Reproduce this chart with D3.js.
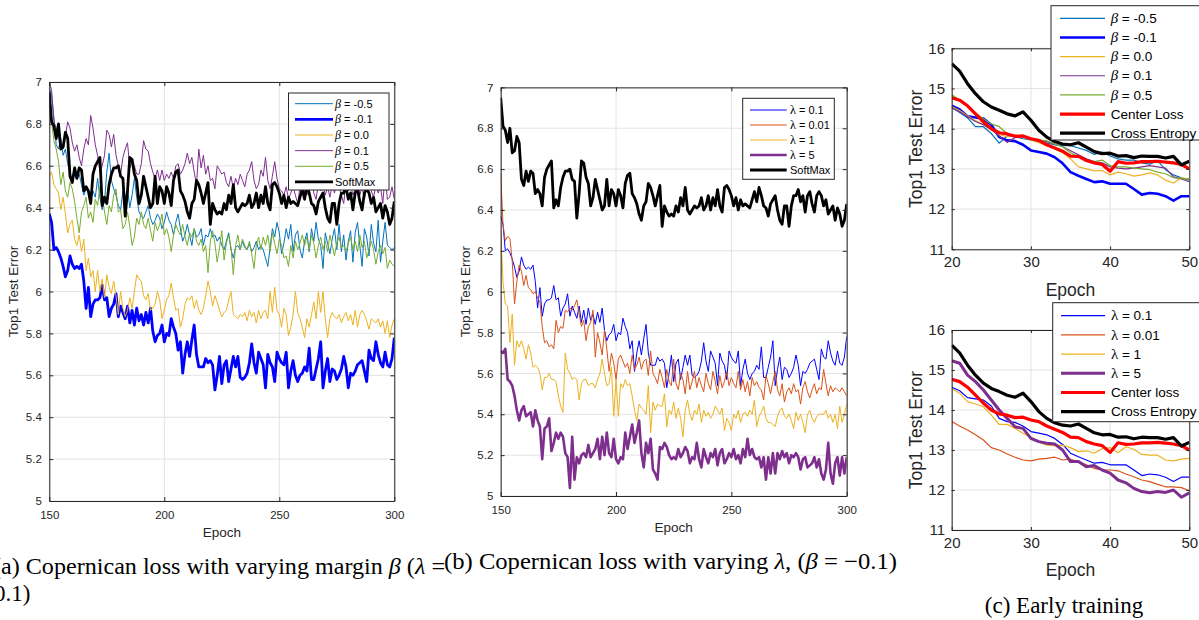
<!DOCTYPE html>
<html><head><meta charset="utf-8">
<script src="https://cdn.jsdelivr.net/npm/d3@7"></script>
<style>body{margin:0;background:#fff}svg{display:block}</style>
</head><body><svg id="c" width="1199" height="620"></svg>
<script>
// ---------------- DATA ----------------
const epochsLong = d3.range(150, 301);
const epochsEarly = d3.range(20, 51);
const ticksLongX = [150, 200, 250, 300];
const ticksLongY = [5, 5.2, 5.4, 5.6, 5.8, 6, 6.2, 6.4, 6.6, 6.8, 7];
const ticksEarlyX = [20, 30, 40, 50];
const ticksEarlyY = [11, 12, 13, 14, 15, 16];

const softmax = [
6.95,6.81,6.79,6.73,6.80,6.68,6.69,6.76,6.73,6.55,
6.52,6.59,6.54,6.59,6.58,6.48,6.50,6.48,6.42,6.56,
6.60,6.62,6.64,6.41,6.45,6.42,6.51,6.56,6.59,6.59,
6.60,6.55,6.54,6.36,6.48,6.64,6.63,6.56,6.53,6.42,
6.46,6.55,6.50,6.45,6.40,6.42,6.55,6.42,6.50,6.48,
6.42,6.50,6.47,6.41,6.53,6.57,6.58,6.48,6.46,6.43,
6.38,6.35,6.42,6.44,6.53,6.51,6.47,6.42,6.47,6.52,
6.32,6.42,6.39,6.37,6.38,6.37,6.42,6.39,6.46,6.42,
6.51,6.40,6.38,6.40,6.42,6.41,6.42,6.46,6.40,6.42,
6.47,6.40,6.46,6.42,6.50,6.42,6.39,6.51,6.52,6.50,
6.47,6.42,6.46,6.40,6.45,6.42,6.43,6.42,6.41,6.45,
6.49,6.44,6.51,6.47,6.42,6.41,6.37,6.43,6.45,6.47,
6.40,6.35,6.33,6.42,6.42,6.32,6.42,6.47,6.47,6.50,
6.44,6.47,6.39,6.47,6.49,6.43,6.39,6.47,6.49,6.47,
6.42,6.45,6.38,6.40,6.42,6.35,6.41,6.38,6.32,6.35,
6.43];
// beta = -0.1, lambda = 0.1 (shared by panels a and b)
const copBase = [
6.37,6.33,6.20,6.21,6.19,6.16,6.12,6.07,6.10,6.17,
6.13,6.11,6.12,6.11,6.13,6.05,5.92,6.02,5.88,5.94,
5.96,5.96,5.97,6.03,5.96,5.97,5.88,5.92,5.94,5.99,
5.88,5.93,5.90,5.87,5.93,5.85,5.91,5.84,5.92,5.86,
5.89,5.84,5.90,5.85,5.92,5.81,5.76,5.79,5.80,5.84,
5.76,5.80,5.79,5.87,5.83,5.80,5.72,5.76,5.61,5.70,
5.76,5.69,5.77,5.84,5.70,5.64,5.64,5.64,5.68,5.66,
5.67,5.65,5.53,5.60,5.69,5.56,5.65,5.67,5.57,5.63,
5.69,5.64,5.69,5.59,5.58,5.59,5.61,5.66,5.75,5.66,
5.61,5.71,5.68,5.65,5.54,5.70,5.66,5.64,5.57,5.71,
5.68,5.66,5.65,5.71,5.54,5.62,5.67,5.60,5.57,5.60,
5.61,5.64,5.62,5.73,5.58,5.58,5.63,5.68,5.76,5.54,
5.62,5.68,5.57,5.63,5.62,5.58,5.60,5.63,5.69,5.64,
5.54,5.61,5.60,5.62,5.65,5.66,5.67,5.62,5.57,5.72,
5.68,5.67,5.76,5.70,5.66,5.64,5.71,5.65,5.64,5.68,
5.78];
const betaM05 = [
6.97,6.94,6.83,6.70,6.68,6.73,6.65,6.68,6.61,6.57,
6.53,6.56,6.54,6.56,6.51,6.46,6.49,6.47,6.44,6.48,
6.45,6.54,6.45,6.39,6.43,6.57,6.66,6.53,6.49,6.46,
6.41,6.39,6.48,6.45,6.49,6.40,6.46,6.54,6.45,6.38,
6.36,6.35,6.38,6.41,6.35,6.32,6.34,6.37,6.35,6.30,
6.33,6.38,6.34,6.32,6.27,6.33,6.37,6.30,6.24,6.27,
6.32,6.27,6.22,6.30,6.26,6.27,6.30,6.22,6.27,6.26,
6.30,6.26,6.27,6.24,6.26,6.22,6.20,6.24,6.28,6.20,
6.16,6.21,6.22,6.20,6.24,6.21,6.20,6.23,6.19,6.21,
6.24,6.20,6.22,6.20,6.16,6.12,6.21,6.30,6.26,6.33,
6.28,6.18,6.23,6.30,6.25,6.32,6.19,6.27,6.29,6.20,
6.16,6.24,6.28,6.19,6.30,6.24,6.33,6.25,6.22,6.11,
6.28,6.23,6.18,6.25,6.30,6.20,6.32,6.19,6.27,6.15,
6.24,6.29,6.14,6.28,6.33,6.22,6.12,6.30,6.26,6.17,
6.32,6.23,6.19,6.34,6.14,6.24,6.33,6.22,6.21,6.20,
6.21];
const beta00 = [
6.55,6.57,6.51,6.49,6.47,6.39,6.45,6.37,6.28,6.32,
6.34,6.25,6.22,6.27,6.19,6.25,6.10,6.16,6.07,6.10,
6.00,6.10,6.00,6.06,5.97,6.08,6.02,5.99,6.05,5.98,
5.89,6.00,5.92,5.88,5.91,5.97,5.92,6.00,6.08,6.06,
6.05,5.98,5.96,5.99,5.91,5.92,5.94,6.00,5.96,5.87,
5.91,5.96,5.98,6.04,5.97,5.91,5.92,5.83,5.87,5.94,
5.97,5.96,5.98,5.92,5.96,5.91,5.89,5.92,5.98,6.05,
6.00,5.93,5.98,5.95,5.91,5.88,5.90,5.91,5.96,6.00,
5.89,5.88,5.87,5.89,5.88,5.90,5.86,5.91,5.88,5.90,
5.85,5.91,5.87,5.90,5.91,5.87,6.00,5.90,6.02,5.91,
5.89,5.83,5.92,5.89,5.79,5.83,5.89,6.00,5.90,5.87,
5.83,5.78,5.87,5.83,5.89,5.95,5.87,6.00,5.90,6.00,
5.87,5.78,5.87,5.90,5.88,5.87,5.89,5.85,5.88,5.90,
5.86,5.89,5.84,5.91,5.83,5.89,5.91,5.89,5.86,5.82,
5.87,5.86,5.85,5.87,5.83,5.86,5.80,5.86,5.78,5.84,
5.87];
const beta01 = [
7.00,6.96,6.81,6.78,6.74,6.70,6.68,6.74,6.81,6.78,
6.71,6.67,6.70,6.64,6.60,6.68,6.73,6.70,6.84,6.78,
6.70,6.65,6.57,6.60,6.65,6.77,6.75,6.69,6.75,6.65,
6.60,6.56,6.64,6.68,6.71,6.59,6.62,6.60,6.56,6.56,
6.61,6.72,6.68,6.67,6.61,6.57,6.54,6.58,6.53,6.58,
6.53,6.56,6.54,6.57,6.54,6.60,6.61,6.56,6.58,6.61,
6.66,6.61,6.64,6.57,6.51,6.68,6.59,6.65,6.56,6.60,
6.53,6.54,6.49,6.60,6.58,6.56,6.57,6.52,6.50,6.55,
6.49,6.54,6.51,6.56,6.53,6.50,6.56,6.58,6.62,6.53,
6.49,6.51,6.58,6.55,6.64,6.53,6.49,6.55,6.62,6.54,
6.49,6.48,6.46,6.50,6.44,6.47,6.50,6.46,6.42,6.50,
6.47,6.52,6.46,6.50,6.56,6.47,6.44,6.52,6.48,6.51,
6.46,6.50,6.45,6.51,6.47,6.53,6.50,6.46,6.42,6.52,
6.48,6.51,6.46,6.49,6.52,6.46,6.50,6.44,6.50,6.53,
6.48,6.45,6.51,6.47,6.50,6.42,6.56,6.44,6.45,6.50,
6.44];
const beta05 = [
6.84,6.81,6.72,6.68,6.62,6.51,6.57,6.48,6.45,6.52,
6.49,6.43,6.35,6.28,6.38,6.41,6.45,6.35,6.38,6.33,
6.44,6.41,6.50,6.46,6.38,6.32,6.41,6.38,6.46,6.49,
6.38,6.39,6.30,6.32,6.38,6.31,6.22,6.26,6.35,6.32,
6.38,6.32,6.30,6.35,6.29,6.24,6.33,6.29,6.32,6.37,
6.27,6.30,6.26,6.19,6.27,6.32,6.29,6.27,6.32,6.26,
6.22,6.28,6.26,6.30,6.24,6.22,6.25,6.19,6.22,6.09,
6.24,6.29,6.23,6.14,6.21,6.29,6.15,6.23,6.27,6.21,
6.08,6.22,6.27,6.20,6.25,6.22,6.20,6.24,6.18,6.11,
6.22,6.26,6.20,6.26,6.22,6.27,6.19,6.28,6.23,6.18,
6.25,6.22,6.16,6.17,6.12,6.22,6.16,6.24,6.20,6.23,
6.27,6.22,6.26,6.20,6.27,6.23,6.16,6.22,6.26,6.20,
6.24,6.19,6.27,6.22,6.17,6.23,6.26,6.21,6.22,6.19,
6.23,6.26,6.20,6.24,6.19,6.27,6.21,6.24,6.16,6.20,
6.24,6.20,6.13,6.19,6.22,6.18,6.21,6.11,6.15,6.13,
6.12];
const lam001 = [
6.58,6.33,6.25,6.27,6.26,6.15,5.94,6.05,6.13,6.10,
6.03,6.08,6.02,6.01,5.99,6.00,5.97,5.95,5.83,5.75,
5.76,5.73,5.74,5.72,5.86,5.80,5.83,5.82,5.91,5.90,
5.92,5.91,5.93,5.96,5.89,5.83,5.86,5.76,5.83,5.85,
5.91,5.68,5.80,5.75,5.69,5.81,5.72,5.61,5.70,5.65,
5.57,5.67,5.69,5.66,5.63,5.65,5.60,5.69,5.62,5.64,
5.68,5.62,5.66,5.67,5.59,5.71,5.60,5.58,5.55,5.62,
5.58,5.53,5.62,5.56,5.54,5.67,5.55,5.52,5.60,5.57,
5.50,5.61,5.52,5.56,5.61,5.53,5.58,5.54,5.51,5.60,
5.55,5.52,5.61,5.56,5.50,5.59,5.53,5.56,5.61,5.54,
5.58,5.55,5.53,5.61,5.52,5.57,5.51,5.56,5.49,5.58,
5.54,5.56,5.53,5.52,5.47,5.59,5.55,5.50,5.56,5.61,
5.52,5.49,5.55,5.46,5.51,5.53,5.50,5.55,5.51,5.52,
5.45,5.53,5.56,5.51,5.48,5.52,5.55,5.50,5.53,5.52,
5.62,5.55,5.49,5.54,5.51,5.53,5.52,5.51,5.53,5.51,
5.49];
const lam1 = [
6.30,6.05,5.94,5.93,5.75,5.89,5.64,5.76,5.73,5.76,
5.72,5.67,5.74,5.70,5.63,5.64,5.63,5.60,5.52,5.58,
5.58,5.60,5.57,5.57,5.56,5.49,5.44,5.41,5.70,5.62,
5.60,5.57,5.58,5.57,5.47,5.55,5.57,5.57,5.54,5.55,
5.55,5.53,5.57,5.60,5.67,5.60,5.54,5.55,5.63,5.39,
5.57,5.39,5.55,5.53,5.57,5.54,5.55,5.49,5.42,5.37,
5.45,5.43,5.42,5.40,5.54,5.31,5.46,5.42,5.45,5.44,
5.44,5.50,5.34,5.42,5.40,5.46,5.38,5.43,5.38,5.29,
5.42,5.47,5.40,5.37,5.42,5.40,5.45,5.36,5.42,5.39,
5.41,5.38,5.40,5.44,5.42,5.40,5.43,5.32,5.38,5.36,
5.32,5.40,5.38,5.42,5.36,5.40,5.41,5.39,5.42,5.40,
5.47,5.34,5.39,5.41,5.44,5.38,5.36,5.36,5.35,5.34,
5.39,5.42,5.43,5.39,5.38,5.40,5.37,5.33,5.41,5.37,
5.40,5.36,5.31,5.40,5.42,5.38,5.36,5.39,5.40,5.40,
5.40,5.42,5.38,5.40,5.36,5.40,5.33,5.44,5.36,5.40,
5.45];
const lam5 = [
5.71,5.70,5.72,5.57,5.56,5.54,5.49,5.42,5.37,5.42,
5.44,5.39,5.40,5.41,5.34,5.42,5.37,5.34,5.18,5.33,
5.34,5.38,5.22,5.26,5.31,5.28,5.31,5.29,5.21,5.19,
5.04,5.29,5.08,5.19,5.16,5.20,5.21,5.19,5.25,5.19,
5.21,5.23,5.28,5.18,5.29,5.20,5.31,5.21,5.19,5.28,
5.18,5.16,5.19,5.18,5.31,5.23,5.29,5.35,5.26,5.31,
5.37,5.21,5.14,5.26,5.21,5.28,5.13,5.11,5.08,5.24,
5.23,5.26,5.24,5.20,5.18,5.19,5.18,5.23,5.19,5.21,
5.24,5.22,5.16,5.19,5.18,5.26,5.18,5.14,5.23,5.19,
5.16,5.21,5.19,5.23,5.15,5.21,5.23,5.16,5.18,5.21,
5.19,5.23,5.18,5.20,5.16,5.23,5.19,5.28,5.20,5.23,
5.19,5.18,5.19,5.14,5.19,5.08,5.19,5.11,5.21,5.11,
5.21,5.18,5.22,5.19,5.21,5.16,5.20,5.19,5.21,5.19,
5.13,5.18,5.19,5.14,5.15,5.16,5.19,5.14,5.18,5.11,
5.08,5.13,5.26,5.11,5.06,5.16,5.19,5.10,5.19,5.11,
5.19];

// early training (epochs 20..50)
const earlyCE     = [15.62,15.43,15.12,14.87,14.67,14.54,14.46,14.37,14.32,14.42,14.21,13.96,13.79,13.68,13.62,13.60,13.65,13.54,13.43,13.38,13.39,13.32,13.33,13.28,13.32,13.31,13.31,13.27,13.31,13.10,13.19];
const earlyCenter = [14.77,14.71,14.57,14.37,14.17,14.00,13.90,13.87,13.81,13.82,13.75,13.71,13.60,13.52,13.44,13.32,13.31,13.21,13.15,13.11,12.94,13.18,13.14,13.15,13.18,13.18,13.19,13.17,13.15,13.11,13.00];
const earlyBase   = [14.57,14.48,14.31,14.28,14.25,14.10,13.79,13.71,13.69,13.60,13.46,13.42,13.38,13.29,13.14,12.92,12.83,12.75,12.67,12.69,12.63,12.63,12.63,12.50,12.36,12.40,12.38,12.32,12.21,12.32,12.32];
const earlyBetaM05= [14.53,14.40,14.27,14.05,14.05,13.88,13.64,13.82,13.80,13.75,13.72,13.68,13.64,13.60,13.58,13.58,13.52,13.46,13.36,13.42,13.32,13.25,13.22,13.22,13.15,13.12,13.20,12.98,12.85,12.78,12.72];
const earlyBeta00 = [14.55,14.45,14.32,14.20,14.10,13.98,13.85,13.80,13.85,13.80,13.72,13.65,13.58,13.50,13.40,13.25,13.05,13.00,12.95,12.96,12.85,12.92,12.88,12.82,12.85,12.90,12.85,12.72,12.65,12.78,12.75];
const earlyBeta01 = [14.52,14.42,14.30,14.18,14.10,13.98,13.82,13.66,13.78,13.80,13.74,13.72,13.68,13.62,13.55,13.45,13.35,13.25,13.18,13.15,13.05,13.02,13.00,13.02,13.05,13.08,13.05,13.02,12.80,12.75,12.68];
const earlyBeta05 = [14.85,14.70,14.55,14.40,14.25,14.12,14.05,13.88,13.82,13.80,13.76,13.72,13.70,13.62,13.55,13.40,13.30,13.22,13.18,13.22,13.08,13.05,13.05,13.02,13.00,12.98,12.92,12.88,12.78,12.76,12.75];
const earlyLam001 = [13.71,13.60,13.50,13.38,13.25,13.06,13.00,12.90,12.82,12.75,12.73,12.77,12.79,12.82,12.75,12.77,12.71,12.63,12.54,12.50,12.50,12.48,12.40,12.33,12.25,12.21,12.14,12.08,12.08,12.06,11.98];
const earlyLam1   = [14.54,14.42,14.21,14.15,14.08,13.87,13.64,13.64,13.54,13.42,13.32,13.21,13.12,13.11,13.12,13.06,12.96,12.98,12.92,13.04,13.06,12.93,13.08,13.02,12.89,12.87,12.87,12.75,12.73,12.77,12.79];
const earlyLam5   = [15.23,15.17,14.87,14.71,14.50,14.25,14.00,13.79,13.58,13.54,13.29,13.21,13.17,13.15,13.00,12.71,12.71,12.58,12.61,12.50,12.42,12.25,12.18,12.04,11.96,11.93,11.96,11.94,12.00,11.82,11.93];

// ---------------- STYLE ----------------
const C = {m05:'#0072BD', m01:'#0000FF', b0:'#EDB120', b01:'#7E2F8E', b05:'#77AC30', sm:'#000000', l001:'#D95319', ctr:'#FF0000'};
const SANS = '"Liberation Sans", Arial, Helvetica, sans-serif';
const SERIF = '"Liberation Serif", "Times New Roman", serif';
const AX = '#262626';
const svg = d3.select('#c');
svg.append('rect').attr('width',1199).attr('height',620).attr('fill','#fff');

function B(v){return [{t:'β',it:true,serif:true},{t:' = '+v}];}
function L(v){return [{t:'λ',serif:true},{t:' = '+v}];}
function T(s){return [{t:s}];}

function drawPanel(cfg){
  const x = d3.scaleLinear().domain(cfg.xDomain).range([cfg.left, cfg.right]);
  const y = d3.scaleLinear().domain(cfg.yDomain).range([cfg.bottom, cfg.top]);
  const g = svg.append('g');
  const W = cfg.right-cfg.left, H = cfg.bottom-cfg.top;
  g.selectAll(null).data(cfg.xTicks).join('line')
    .attr('x1',d=>x(d)).attr('x2',d=>x(d)).attr('y1',cfg.top).attr('y2',cfg.bottom)
    .attr('stroke','#e3e3e3').attr('stroke-width',1);
  g.selectAll(null).data(cfg.yTicks).join('line')
    .attr('y1',d=>y(d)).attr('y2',d=>y(d)).attr('x1',cfg.left).attr('x2',cfg.right)
    .attr('stroke','#e3e3e3').attr('stroke-width',1);
  const cid = 'clip'+cfg.id;
  svg.append('clipPath').attr('id',cid).append('rect')
    .attr('x',cfg.left).attr('y',cfg.top-2).attr('width',W).attr('height',H+2);
  const line = d3.line().x((d,i)=>x(cfg.xs[i])).y(d=>y(d));
  cfg.series.forEach(s=>{
    g.append('path').datum(s.values).attr('clip-path',`url(#${cid})`)
      .attr('d',line).attr('fill','none').attr('stroke',s.color)
      .attr('stroke-width',s.w).attr('stroke-linejoin','round');
  });
  const ts = cfg.tick;
  const fmt = d=>String(+d.toFixed(1));
  const style = (sel,fs)=>{
    sel.select('.domain').attr('stroke',AX).attr('stroke-width',1);
    sel.selectAll('.tick line').attr('stroke',AX).attr('stroke-width',1);
    sel.selectAll('text').attr('fill',AX).attr('font-family',SANS).attr('font-size',fs);
  };
  g.append('g').attr('transform',`translate(0,${cfg.bottom})`)
    .call(d3.axisBottom(x).tickValues(cfg.xTicks).tickFormat(fmt).tickSize(-ts).tickSizeOuter(0).tickPadding(cfg.padX))
    .call(s=>style(s,cfg.tickFs));
  g.append('g').attr('transform',`translate(0,${cfg.top})`)
    .call(d3.axisTop(x).tickValues(cfg.xTicks).tickFormat('').tickSize(-ts).tickSizeOuter(0))
    .call(s=>style(s,cfg.tickFs));
  g.append('g').attr('transform',`translate(${cfg.left},0)`)
    .call(d3.axisLeft(y).tickValues(cfg.yTicks).tickFormat(fmt).tickSize(-ts).tickSizeOuter(0).tickPadding(cfg.padY))
    .call(s=>style(s,cfg.tickFs));
  g.append('g').attr('transform',`translate(${cfg.right},0)`)
    .call(d3.axisRight(y).tickValues(cfg.yTicks).tickFormat('').tickSize(-ts).tickSizeOuter(0))
    .call(s=>style(s,cfg.tickFs));
  g.append('text').attr('x',(cfg.left+cfg.right)/2).attr('y',cfg.xLabelY)
    .attr('text-anchor','middle').attr('font-family',SANS).attr('font-size',cfg.labelFs)
    .attr('fill',AX).text('Epoch');
  g.append('text').attr('transform',`translate(${cfg.yLabelX},${(cfg.top+cfg.bottom)/2}) rotate(-90)`)
    .attr('text-anchor','middle').attr('font-family',SANS).attr('font-size',cfg.labelFs)
    .attr('fill',AX).text('Top1 Test Error');
  const lg = cfg.legend;
  g.append('rect').attr('x',lg.x).attr('y',lg.y).attr('width',lg.w).attr('height',lg.h)
    .attr('fill','#fff').attr('stroke',AX).attr('stroke-width',1);
  cfg.series.forEach((s,i)=>{
    const yy = lg.row0 + i*lg.dy;
    g.append('line').attr('x1',lg.l0).attr('x2',lg.l1).attr('y1',yy).attr('y2',yy)
      .attr('stroke',s.color).attr('stroke-width',s.w);
    const t = g.append('text').attr('x',lg.tx).attr('y',yy).attr('dy','0.35em')
      .attr('font-family',SANS).attr('font-size',lg.fs).attr('fill','#000');
    s.label.forEach(p=>{
      const sp = t.append('tspan').text(p.t);
      if(p.serif) sp.attr('font-family',SERIF).attr('font-size',lg.fs*1.1);
      if(p.it) sp.attr('font-style','italic');
    });
  });
}

drawPanel({id:'a', xs:epochsLong, xDomain:[150,300], yDomain:[5,7], xTicks:ticksLongX, yTicks:ticksLongY,
  left:49.3, right:394.3, top:82, bottom:501, tick:4, tickFs:11.5, padX:9.8, padY:7.5, labelFs:13.5,
  xLabelY:537, yLabelX:18,
  series:[
    {label:B('-0.5'), values:betaM05, color:C.m05, w:1},
    {label:B('-0.1'), values:copBase, color:C.m01, w:2.8},
    {label:B('0.0'),  values:beta00,  color:C.b0,  w:1},
    {label:B('0.1'),  values:beta01,  color:C.b01, w:1},
    {label:B('0.5'),  values:beta05,  color:C.b05, w:1},
    {label:T('SoftMax'), values:softmax, color:C.sm, w:2.8}],
  legend:{x:288.5,y:93,w:100.5,h:97,row0:103.7,dy:15.65,l0:295,l1:333,tx:335,fs:11}
});
drawPanel({id:'b', xs:epochsLong, xDomain:[150,300], yDomain:[5,7], xTicks:ticksLongX, yTicks:ticksLongY,
  left:500.7, right:846.7, top:87.4, bottom:496, tick:4, tickFs:11.5, padX:9.5, padY:7.4, labelFs:13.5,
  xLabelY:532, yLabelX:470,
  series:[
    {label:L('0.1'),  values:copBase, color:C.m01, w:1},
    {label:L('0.01'), values:lam001,  color:C.l001, w:1},
    {label:L('1'),    values:lam1,    color:C.b0,  w:1},
    {label:L('5'),    values:lam5,    color:C.b01, w:2.6},
    {label:T('SoftMax'), values:softmax, color:C.sm, w:2.8}],
  legend:{x:742.7,y:98.3,w:91.6,h:81,row0:110,dy:15,l0:750,l1:786.7,tx:790,fs:11}
});
drawPanel({id:'c1', xs:epochsEarly, xDomain:[20,50], yDomain:[11,16], xTicks:ticksEarlyX, yTicks:ticksEarlyY,
  left:951.7, right:1189.3, top:48.3, bottom:249.3, tick:3, tickFs:15, padX:7.4, padY:6.7, labelFs:17.5,
  xLabelY:295.5, yLabelX:922,
  series:[
    {label:B('-0.5'), values:earlyBetaM05, color:C.m05, w:1.2},
    {label:B('-0.1'), values:earlyBase,    color:C.m01, w:2.6},
    {label:B('0.0'),  values:earlyBeta00,  color:C.b0,  w:1.2},
    {label:B('0.1'),  values:earlyBeta01,  color:C.b01, w:1.2},
    {label:B('0.5'),  values:earlyBeta05,  color:C.b05, w:1.2},
    {label:T('Center Loss'),   values:earlyCenter, color:C.ctr, w:3.2},
    {label:T('Cross Entropy'), values:earlyCE,     color:C.sm,  w:3.2}],
  legend:{x:1051,y:5.7,w:160,h:134.3,row0:18.3,dy:19.15,l0:1060,l1:1105,tx:1110.7,fs:13.5}
});
drawPanel({id:'c2', xs:epochsEarly, xDomain:[20,50], yDomain:[11,16], xTicks:ticksEarlyX, yTicks:ticksEarlyY,
  left:951.7, right:1189.3, top:330, bottom:530, tick:3, tickFs:15, padX:7.4, padY:6.7, labelFs:17.5,
  xLabelY:575.5, yLabelX:922,
  series:[
    {label:L('0.1'),  values:earlyBase,   color:C.m01, w:1.2},
    {label:L('0.01'), values:earlyLam001, color:C.l001, w:1.2},
    {label:L('1'),    values:earlyLam1,   color:C.b0,  w:1.2},
    {label:L('5'),    values:earlyLam5,   color:C.b01, w:3},
    {label:T('Center loss'),   values:earlyCenter, color:C.ctr, w:3.2},
    {label:T('Cross Entropy'), values:earlyCE,     color:C.sm,  w:3.2}],
  legend:{x:1052.7,y:302.7,w:160,h:119,row0:315.7,dy:19.2,l0:1061,l1:1105,tx:1111,fs:13.5}
});

function caption(x, y, parts, len){
  const t = svg.append('text').attr('x',x).attr('y',y).attr('font-family',SERIF)
    .attr('font-size',23).attr('fill','#000');
  if(len) t.attr('textLength',len).attr('lengthAdjust','spacingAndGlyphs');
  parts.forEach(p=>{const s=t.append('tspan').text(p.t); if(p.it) s.attr('font-style','italic');});
}
caption(-7, 574, [{t:'(a) Copernican loss with varying margin '},{t:'β',it:true},{t:' ('},{t:'λ',it:true},{t:' ='}], 452);
caption(-6, 601, [{t:'0.1)'}]);
caption(444, 569, [{t:'(b) Copernican loss with varying '},{t:'λ',it:true},{t:', ('},{t:'β',it:true},{t:' = −0.1)'}], 453);
svg.append('text').attr('x',1064).attr('y',613).attr('text-anchor','middle')
  .attr('font-family',SERIF).attr('font-size',23).attr('fill','#000').text('(c) Early training');
</script></body></html>
